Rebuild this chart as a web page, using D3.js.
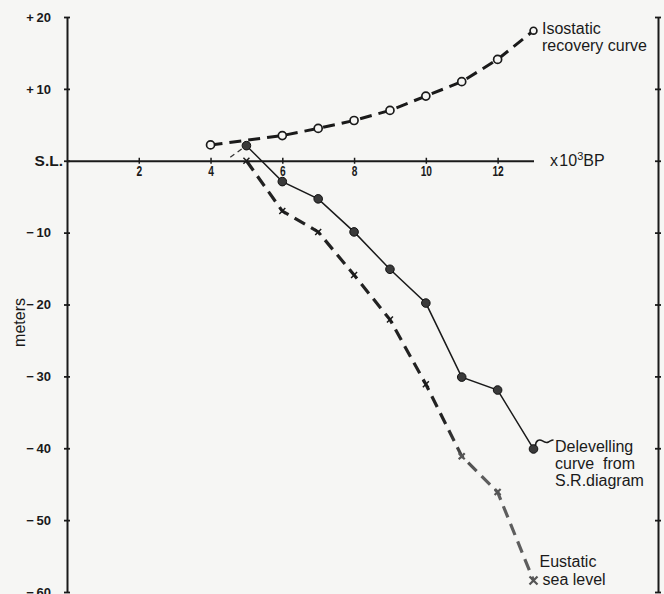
<!DOCTYPE html>
<html>
<head>
<meta charset="utf-8">
<script src="https://cdn.jsdelivr.net/npm/d3@7"></script>
<style>
  body { margin: 0; background: #f6f6f4; }
  svg { display: block; }
  text { font-family: "Liberation Sans", Arial, sans-serif; fill: #1a1a1a; }
  .lbl { font-size: 16px; white-space: pre; }
</style>
</head>
<body>
<svg id="chart" width="664" height="594"></svg>
<script>
'use strict';

// age in 10^3 years BP, level in meters relative to S.L.
var isoAge   = [4, 6, 7, 8, 9, 10, 11, 12, 13]
  , isoLevel = [2.2, 3.5, 4.5, 5.6, 7.0, 9.0, 11.0, 14.1, 18.1];

var delAge   = [5, 6, 7, 8, 9, 10, 11, 12, 13]
  , delLevel = [2.1, -2.9, -5.3, -9.9, -15.1, -19.8, -30.1, -31.9, -40.1];

var eusAge   = [5, 6, 7, 8, 9, 10, 11, 12, 13]
  , eusLevel = [0, -7.0, -9.9, -15.9, -22.1, -31.1, -41.1, -46.1, -58.4];

// thin dashed stub running into the first delevelling point
var stubAge   = [4.55, 5]
  , stubLevel = [0.5, 2.1];

var yTicks = [20, 10, 0, -10, -20, -30, -40, -50, -60]
  , xTicks = [2, 4, 6, 8, 10, 12];

var svg = d3.select('#chart');

var x = d3.scaleLinear().domain([0, 13]).range([67, 533.5])
  , y = d3.scaleLinear().domain([-60, 20]).range([592, 17]);

var ink = '#1a1a1a';

function fmtY(d){
  if (d === 0) return 'S.L.';
  return (d > 0 ? '+\u2009' : '\u2212\u2009') + Math.abs(d);
}

// left axis
var left = svg.append('g')
  .attr('transform', 'translate(' + x(0) + ',0)')
  .call(d3.axisLeft(y).tickValues(yTicks).tickSize(3).tickSizeOuter(0)
          .tickPadding(13).tickFormat(fmtY));

left.select('.domain').attr('stroke', ink).attr('stroke-width', 2);
left.selectAll('.tick line').attr('x1', 3).attr('x2', -3)
    .attr('stroke', ink).attr('stroke-width', 1.8);
left.selectAll('.tick text')
    .attr('font-size', 13).attr('font-weight', 'bold').attr('fill', ink)
    .style('font-family', '"Liberation Sans", Arial, sans-serif');
left.selectAll('.tick text').filter(function(d){ return d === 0; })
    .attr('font-size', 15.5).attr('x', -4);

// right axis, ticks only
var right = svg.append('g')
  .attr('transform', 'translate(658,0)')
  .call(d3.axisRight(y).tickValues(yTicks).tickSize(3).tickSizeOuter(0).tickFormat(''));

right.select('.domain').attr('stroke', ink).attr('stroke-width', 2);
right.selectAll('.tick line').attr('x1', -3).attr('x2', 3)
     .attr('stroke', ink).attr('stroke-width', 1.8);

// time axis along sea level
var bottom = svg.append('g')
  .attr('transform', 'translate(0,' + y(0) + ')')
  .call(d3.axisBottom(x).tickValues(xTicks).tickSize(3).tickSizeOuter(0).tickPadding(2));

bottom.select('.domain').attr('stroke', ink).attr('stroke-width', 1.8);
bottom.selectAll('.tick line').attr('y1', -3).attr('y2', 3)
      .attr('stroke', ink).attr('stroke-width', 1.5);
bottom.selectAll('.tick text')
      .attr('font-size', 15).attr('font-weight', 'bold').attr('fill', ink)
      .attr('transform', 'scale(0.68,1)')
      .style('font-family', '"Liberation Sans", Arial, sans-serif');

// series
var line = d3.line()
  .x(function(d){ return x(d[0]); })
  .y(function(d){ return y(d[1]); });

var iso  = d3.zip(isoAge, isoLevel)
  , del  = d3.zip(delAge, delLevel)
  , eus  = d3.zip(eusAge, eusLevel)
  , stub = d3.zip(stubAge, stubLevel);

// lower part of the eustatic curve is printed lighter
var grad = svg.append('defs').append('linearGradient')
  .attr('id', 'eusFade')
  .attr('gradientUnits', 'userSpaceOnUse')
  .attr('x1', 0).attr('x2', 0)
  .attr('y1', y(-36)).attr('y2', y(-44));
grad.append('stop').attr('offset', 0).attr('stop-color', '#222');
grad.append('stop').attr('offset', 1).attr('stop-color', '#5e5e5e');

svg.append('path').datum(stub)
  .attr('d', line).attr('fill', 'none')
  .attr('stroke', '#333').attr('stroke-width', 1.3).attr('stroke-dasharray', '5,4');

svg.append('path').datum(eus)
  .attr('d', line).attr('fill', 'none')
  .attr('stroke', 'url(#eusFade)').attr('stroke-width', 3.2)
  .attr('stroke-dasharray', '12,7');

svg.append('path').datum(del)
  .attr('d', line).attr('fill', 'none')
  .attr('stroke', ink).attr('stroke-width', 1.5);

svg.append('path').datum(iso)
  .attr('d', line).attr('fill', 'none')
  .attr('stroke', ink).attr('stroke-width', 3)
  .attr('stroke-dasharray', '12,7');

// markers
svg.selectAll('.eus-mark').data(eus).enter().append('path')
  .attr('class', 'eus-mark')
  .attr('transform', function(d){ return 'translate(' + x(d[0]) + ',' + y(d[1]) + ')'; })
  .attr('d', function(d, i){ var s = i === eus.length - 1 ? 4 : 3;
    return 'M' + -s + ',' + -s + 'L' + s + ',' + s + 'M' + -s + ',' + s + 'L' + s + ',' + -s; })
  .attr('stroke', function(d){ return d[1] < -40 ? '#555' : ink; })
  .attr('stroke-width', function(d){ return d[1] < -40 ? 2.2 : 1.5; });

svg.selectAll('.del-mark').data(del).enter().append('circle')
  .attr('class', 'del-mark')
  .attr('cx', function(d){ return x(d[0]); })
  .attr('cy', function(d){ return y(d[1]); })
  .attr('r', 4.3)
  .attr('fill', '#3a3a3a').attr('stroke', '#111').attr('stroke-width', 1);

svg.selectAll('.iso-mark').data(iso).enter().append('circle')
  .attr('class', 'iso-mark')
  .attr('cx', function(d){ return x(d[0]); })
  .attr('cy', function(d){ return y(d[1]); })
  .attr('r', function(d, i){ return i === iso.length - 1 ? 3.4 : 4; })
  .attr('fill', '#f6f6f4').attr('stroke', ink).attr('stroke-width', 1.7);

// annotations
var isoEnd = iso[iso.length - 1]
  , delEnd = del[del.length - 1]
  , eusEnd = eus[eus.length - 1];

svg.append('text').attr('class', 'lbl')
  .attr('x', x(isoEnd[0]) + 8.5).attr('y', 34).attr('font-size', 15.5)
  .text('Isostatic');
svg.append('text').attr('class', 'lbl')
  .attr('x', x(isoEnd[0]) + 8.5).attr('y', 51).attr('font-size', 15.5)
  .text('recovery curve');

var unit = svg.append('text').attr('class', 'lbl')
  .attr('x', 550).attr('y', y(0) + 5.5).attr('font-size', 16);
unit.append('tspan').text('x\u200a10');
unit.append('tspan').attr('dy', -6).attr('font-size', 11).text('3');
unit.append('tspan').attr('dy', 6).text('BP');

// little curl leading from the last delevelling point to its label
var cx = x(delEnd[0]), cy = y(delEnd[1]);
svg.append('path')
  .attr('d', 'M' + (cx + 2) + ',' + (cy - 3)
           + 'C' + (cx + 2) + ',' + (cy - 9) + ' ' + (cx + 6) + ',' + (cy - 10) + ' ' + (cx + 9) + ',' + (cy - 8)
           + 'S' + (cx + 13) + ',' + (cy - 6) + ' ' + (cx + 15) + ',' + (cy - 7)
           + 'S' + (cx + 18) + ',' + (cy - 9) + ' ' + (cx + 20) + ',' + (cy - 9))
  .attr('fill', 'none').attr('stroke', ink).attr('stroke-width', 1.5);

svg.append('text').attr('class', 'lbl')
  .attr('x', 555).attr('y', 452).text('Delevelling');
svg.append('text').attr('class', 'lbl')
  .attr('x', 555).attr('y', 469).text('curve  from');
svg.append('text').attr('class', 'lbl')
  .attr('x', 555).attr('y', 486).text('S.R.diagram');

svg.append('text').attr('class', 'lbl')
  .attr('x', x(eusEnd[0]) + 6).attr('y', 566.5).text('Eustatic');
svg.append('text').attr('class', 'lbl')
  .attr('x', x(eusEnd[0]) + 9).attr('y', 585).text('sea level');

svg.append('text').attr('class', 'lbl')
  .attr('transform', 'translate(25,' + y(-22.5) + ') rotate(-90)')
  .attr('text-anchor', 'middle').attr('font-size', 15.5)
  .text('meters');
</script>
</body>
</html>
